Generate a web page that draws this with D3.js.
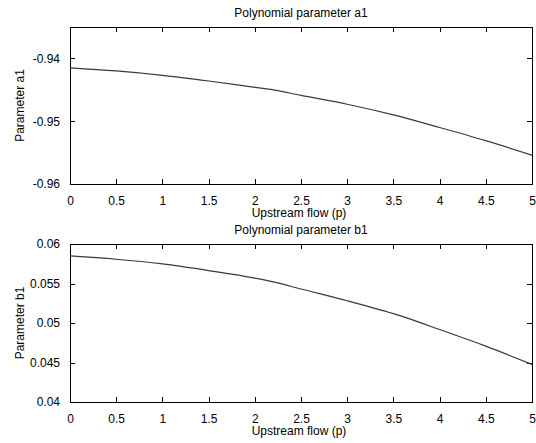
<!DOCTYPE html>
<html>
<head>
<meta charset="utf-8">
<script src="https://cdn.jsdelivr.net/npm/d3@7"></script>
<style>
  html, body { margin: 0; padding: 0; background: #fff; }
  svg { display: block; }
  text { font-family: "Liberation Sans", Arial, sans-serif; font-size: 12px; fill: #000; }
</style>
</head>
<body>
<svg id="chart" width="536" height="443"></svg>
<script>
// ---- data ----
const flowP = [0, 0.5, 1, 1.5, 2, 2.2, 2.5, 3, 3.5, 4, 4.5, 5];
const paramA1 = [-0.9415, -0.9420, -0.9427, -0.9436, -0.9446, -0.9450, -0.9459, -0.9473, -0.9490, -0.9510, -0.9531, -0.9554];
const flowPb = [0, 0.5, 1, 1.5, 2, 2.2, 2.5, 3, 3.5, 3.7, 4, 4.5, 5];
const paramB1 = [0.05849, 0.05807, 0.05748, 0.05664, 0.05568, 0.05520, 0.0543, 0.05282, 0.05118, 0.05043, 0.04917, 0.04707, 0.04476];
const xTicks = [0, 0.5, 1, 1.5, 2, 2.5, 3, 3.5, 4, 4.5, 5];
const yTicksA = [-0.96, -0.95, -0.94];
const yTicksB = [0.04, 0.045, 0.05, 0.055, 0.06];

const svg = d3.select("#chart");

function panel(cfg) {
  const g = svg.append("g");
  const x = d3.scaleLinear().domain([0, 5]).range([cfg.left, cfg.right]);
  const y = d3.scaleLinear().domain(cfg.yDomain).range([cfg.bottom, cfg.top]);
  const tl = 5;
  const fmtX = d => String(d);
  const fmtY = d => String(+d.toFixed(4));

  // bottom axis
  g.append("g").attr("transform", `translate(0,${cfg.bottom})`)
    .call(d3.axisBottom(x).tickValues(xTicks).tickFormat(fmtX).tickSizeInner(-tl).tickSizeOuter(0).tickPadding(12));
  // top axis (ticks only)
  g.append("g").attr("transform", `translate(0,${cfg.top})`)
    .call(d3.axisTop(x).tickValues(xTicks).tickFormat("").tickSizeInner(-tl).tickSizeOuter(0));
  // left axis
  g.append("g").attr("transform", `translate(${cfg.left},0)`)
    .call(d3.axisLeft(y).tickValues(cfg.yTicks).tickFormat(fmtY).tickSizeInner(-tl).tickSizeOuter(0).tickPadding(10));
  // right axis (ticks only)
  g.append("g").attr("transform", `translate(${cfg.right},0)`)
    .call(d3.axisRight(y).tickValues(cfg.yTicks).tickFormat("").tickSizeInner(-tl).tickSizeOuter(0));

  g.selectAll(".domain").remove();
  g.selectAll(".tick line").attr("stroke", "#000").attr("shape-rendering", "crispEdges");
  g.selectAll(".tick text").style("font-size", "12px").attr("fill", "#000");

  // box
  g.append("rect")
    .attr("x", cfg.left + 0.5).attr("y", cfg.top + 0.5)
    .attr("width", cfg.right - cfg.left).attr("height", cfg.bottom - cfg.top)
    .attr("fill", "none").attr("stroke", "#000").attr("shape-rendering", "crispEdges");

  // curve
  const line = d3.line().x((d, i) => x(cfg.xs[i])).y(d => y(d)).curve(d3.curveMonotoneX);
  g.append("path").datum(cfg.ys)
    .attr("d", line).attr("fill", "none").attr("stroke", "#3a3a3a").attr("stroke-width", 1.2);

  // title
  g.append("text").attr("x", (cfg.left + cfg.right) / 2).attr("y", cfg.top - 10)
    .attr("text-anchor", "middle").text(cfg.title);
  // x label
  g.append("text").attr("x", (cfg.left + cfg.right) / 2 - 2).attr("y", cfg.bottom + 33)
    .attr("text-anchor", "middle").text("Upstream flow (p)");
  // y label
  g.append("text")
    .attr("transform", `translate(24,${(cfg.top + cfg.bottom) / 2}) rotate(-90)`)
    .attr("text-anchor", "middle").text(cfg.yLabel);
}

panel({ left: 70, right: 532, top: 27, bottom: 184, yDomain: [-0.96, -0.935], yTicks: yTicksA,
        xs: flowP, ys: paramA1, title: "Polynomial parameter a1", yLabel: "Parameter a1" });
panel({ left: 70, right: 532, top: 244, bottom: 402, yDomain: [0.04, 0.06], yTicks: yTicksB,
        xs: flowPb, ys: paramB1, title: "Polynomial parameter b1", yLabel: "Parameter b1" });
</script>
</body>
</html>
